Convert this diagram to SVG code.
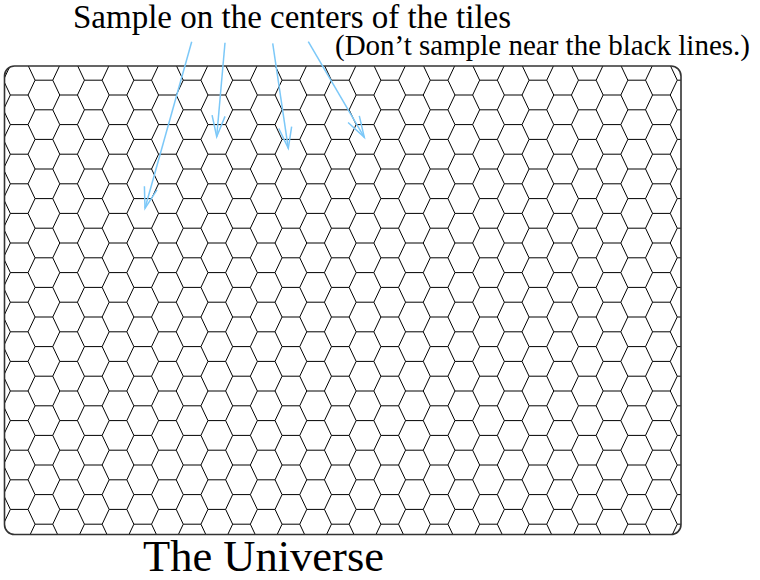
<svg xmlns="http://www.w3.org/2000/svg" xmlns:xlink="http://www.w3.org/1999/xlink" width="760" height="580" viewBox="0 0 760 580">
<style>
.grid{fill:none;stroke:#000;stroke-width:1}
.ha{stroke:#000;stroke-width:1;stroke-dasharray:17.7 31.7}
.border{fill:none;stroke:#333;stroke-width:1.6}
.arrow{fill:none;stroke:#7cc8f8;stroke-width:1.5}
.t{font-family:"Liberation Serif","Times New Roman",serif;fill:#000}
</style>
<defs>
<clipPath id="clip"><rect x="4.5" y="66" width="676.5" height="468.5" rx="10" ry="10"/></clipPath>
<path id="z" class="grid" d="M35.05,35.8 l-7,14.8 7,14.8 -7,14.8 7,14.8 -7,14.8 7,14.8 -7,14.8 7,14.8 -7,14.8 7,14.8 -7,14.8 7,14.8 -7,14.8 7,14.8 -7,14.8 7,14.8 -7,14.8 7,14.8 -7,14.8 7,14.8 -7,14.8 7,14.8 -7,14.8 7,14.8 -7,14.8 7,14.8 -7,14.8 7,14.8 -7,14.8 7,14.8 -7,14.8 7,14.8 -7,14.8 7,14.8 -7,14.8 7,14.8"/>
<line id="la" class="ha" x1="-39.05" y1="0" x2="720" y2="0"/>
<line id="lb" class="ha" x1="-14.35" y1="0" x2="720" y2="0"/>
<marker id="ah" markerUnits="userSpaceOnUse" markerWidth="30" markerHeight="20" viewBox="-25 -10 30 20" refX="0" refY="0" orient="auto">
<path d="M-21,-6.5 L0,0 L-21,6.5" fill="none" stroke="#7cc8f8" stroke-width="1.5"/>
</marker>
</defs>
<g id="universe">
<g id="tiles" clip-path="url(#clip)">
<g id="zigzags">
<use xlink:href="#z" x="-24.7" y="0"/>
<use xlink:href="#z" x="0" y="14.8"/>
<use xlink:href="#z" x="24.7" y="0"/>
<use xlink:href="#z" x="49.4" y="14.8"/>
<use xlink:href="#z" x="74.1" y="0"/>
<use xlink:href="#z" x="98.8" y="14.8"/>
<use xlink:href="#z" x="123.5" y="0"/>
<use xlink:href="#z" x="148.2" y="14.8"/>
<use xlink:href="#z" x="172.9" y="0"/>
<use xlink:href="#z" x="197.6" y="14.8"/>
<use xlink:href="#z" x="222.3" y="0"/>
<use xlink:href="#z" x="247" y="14.8"/>
<use xlink:href="#z" x="271.7" y="0"/>
<use xlink:href="#z" x="296.4" y="14.8"/>
<use xlink:href="#z" x="321.1" y="0"/>
<use xlink:href="#z" x="345.8" y="14.8"/>
<use xlink:href="#z" x="370.5" y="0"/>
<use xlink:href="#z" x="395.2" y="14.8"/>
<use xlink:href="#z" x="419.9" y="0"/>
<use xlink:href="#z" x="444.6" y="14.8"/>
<use xlink:href="#z" x="469.3" y="0"/>
<use xlink:href="#z" x="494" y="14.8"/>
<use xlink:href="#z" x="518.7" y="0"/>
<use xlink:href="#z" x="543.4" y="14.8"/>
<use xlink:href="#z" x="568.1" y="0"/>
<use xlink:href="#z" x="592.8" y="14.8"/>
<use xlink:href="#z" x="617.5" y="0"/>
<use xlink:href="#z" x="642.2" y="14.8"/>
</g>
<g id="edges">
<use xlink:href="#lb" y="80.2"/>
<use xlink:href="#la" y="95"/>
<use xlink:href="#lb" y="109.8"/>
<use xlink:href="#la" y="124.6"/>
<use xlink:href="#lb" y="139.4"/>
<use xlink:href="#la" y="154.2"/>
<use xlink:href="#lb" y="169"/>
<use xlink:href="#la" y="183.8"/>
<use xlink:href="#lb" y="198.6"/>
<use xlink:href="#la" y="213.4"/>
<use xlink:href="#lb" y="228.2"/>
<use xlink:href="#la" y="243"/>
<use xlink:href="#lb" y="257.8"/>
<use xlink:href="#la" y="272.6"/>
<use xlink:href="#lb" y="287.4"/>
<use xlink:href="#la" y="302.2"/>
<use xlink:href="#lb" y="317"/>
<use xlink:href="#la" y="331.8"/>
<use xlink:href="#lb" y="346.6"/>
<use xlink:href="#la" y="361.4"/>
<use xlink:href="#lb" y="376.2"/>
<use xlink:href="#la" y="391"/>
<use xlink:href="#lb" y="405.8"/>
<use xlink:href="#la" y="420.6"/>
<use xlink:href="#lb" y="435.4"/>
<use xlink:href="#la" y="450.2"/>
<use xlink:href="#lb" y="465"/>
<use xlink:href="#la" y="479.8"/>
<use xlink:href="#lb" y="494.6"/>
<use xlink:href="#la" y="509.4"/>
<use xlink:href="#lb" y="524.2"/>
</g>
</g>
<rect class="border" x="4.5" y="66" width="676.5" height="468.5" rx="10" ry="10"/>
</g>
<g id="connectors">
<line class="arrow" x1="191.7" y1="41.7" x2="145" y2="208.3" marker-end="url(#ah)"/>
<line class="arrow" x1="225" y1="42.7" x2="216.7" y2="136.7" marker-end="url(#ah)"/>
<line class="arrow" x1="272.7" y1="43.3" x2="288.3" y2="148.3" marker-end="url(#ah)"/>
<line class="arrow" x1="308.3" y1="41.7" x2="364.3" y2="137.3" marker-end="url(#ah)"/>
</g>
<g id="labels">
<text class="t" x="73" y="28" font-size="33">Sample on the centers of the tiles</text>
<text class="t" x="335" y="55" font-size="29">(Don’t sample near the black lines.)</text>
<text class="t" x="143" y="570.5" font-size="44.5">The Universe</text>
</g>
</svg>
